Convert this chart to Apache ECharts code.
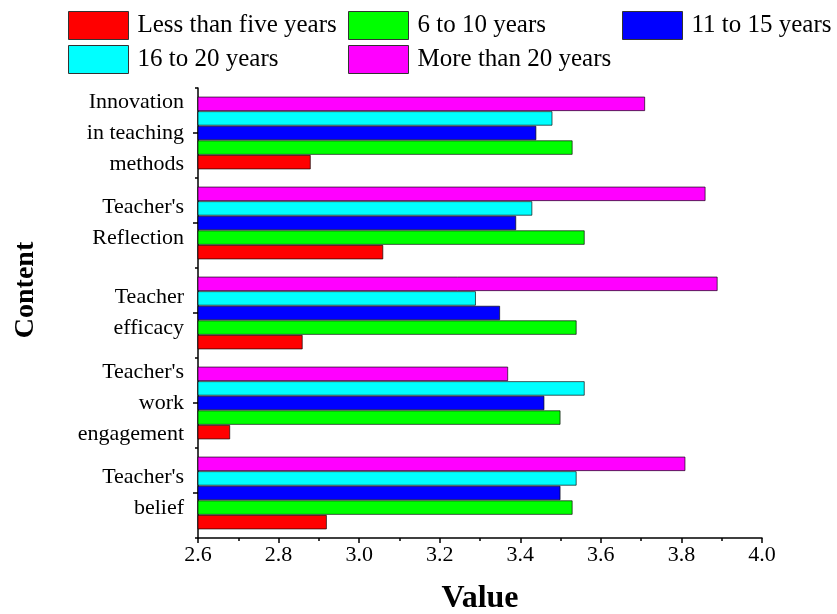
<!DOCTYPE html>
<html>
<head>
<meta charset="utf-8">
<script src="https://cdn.jsdelivr.net/npm/echarts@6/dist/echarts.min.js"></script>
<style>
  html, body { margin: 0; padding: 0; background: #fff; }
  #main { width: 837px; height: 614px; }
</style>
</head>
<body>
<div id="main"></div>
<script>
// categories, bottom to top
var categories = ["Teacher's\nbelief", "Teacher's\nwork\nengagement", "Teacher\nefficacy", "Teacher's\nReflection", "Innovation\nin teaching\nmethods"];
var seriesNames = ['Less than five years', '6 to 10 years', '11 to 15 years', '16 to 20 years', 'More than 20 years'];
var lessThanFive = [2.92, 2.68, 2.86, 3.06, 2.88];
var sixToTen = [3.53, 3.50, 3.54, 3.56, 3.53];
var elevenToFifteen = [3.50, 3.46, 3.35, 3.39, 3.44];
var sixteenToTwenty = [3.54, 3.56, 3.29, 3.43, 3.48];
var moreThanTwenty = [3.81, 3.37, 3.89, 3.86, 3.71];
var xTicks = { min: 2.6, max: 4.0, interval: 0.2 };

var colors = ['#ff0000', '#00ff00', '#0000ff', '#00ffff', '#ff00ff'];
var values = [lessThanFive, sixToTen, elevenToFifteen, sixteenToTwenty, moreThanTwenty];
var font = 'Liberation Serif';

var chart = echarts.init(document.getElementById('main'));

// legend boxes placed like the original (3 + 2 layout)
var legendPos = [[68, 11], [348, 11], [622, 11], [68, 45], [348, 45]];
var legends = seriesNames.map(function (n, i) {
    return {
        data: [n],
        left: legendPos[i][0],
        top: legendPos[i][1],
        padding: 0,
        icon: 'rect',
        itemWidth: 60,
        itemHeight: 28,
        itemGap: 0,
        selectedMode: false,
        itemStyle: { borderColor: '#333', borderWidth: 1 },
        textStyle: { fontFamily: font, fontSize: 25, color: '#000', padding: [0, 0, 0, 4] }
    };
});

// first series is drawn at the top of a band, so add them in reverse
var series = [];
for (var i = seriesNames.length - 1; i >= 0; i--) {
    series.push({
        name: seriesNames[i],
        type: 'bar',
        data: values[i],
        barGap: '0%',
        barCategoryGap: '19%',
        itemStyle: { color: colors[i], borderColor: 'rgba(0,0,0,0.65)', borderWidth: 1 }
    });
}

var option = {
    animation: false,
    backgroundColor: '#fff',
    legend: legends,
    grid: { left: 198, right: 75, top: 88, bottom: 76, outerBoundsMode: 'none' },
    xAxis: {
        type: 'value',
        min: xTicks.min,
        max: xTicks.max,
        interval: xTicks.interval,
        name: 'Value',
        nameLocation: 'middle',
        nameGap: 45,
        nameTextStyle: { fontFamily: font, fontSize: 32, fontWeight: 'bold', color: '#000' },
        axisLine: { show: true, lineStyle: { color: '#000', width: 1.5 } },
        axisTick: { show: true, length: 5, lineStyle: { color: '#000', width: 1.5 } },
        minorTick: { show: true, splitNumber: 2, length: 3, lineStyle: { color: '#000', width: 1.5 } },
        splitLine: { show: false },
        axisLabel: {
            fontFamily: font, fontSize: 22, color: '#000', margin: 6,
            formatter: function (v) { return v.toFixed(1); }
        }
    },
    yAxis: [{
        type: 'category',
        data: categories,
        name: 'Content',
        nameLocation: 'middle',
        nameRotate: 90,
        nameGap: 158,
        nameTextStyle: { fontFamily: font, fontSize: 28, fontWeight: 'bold', color: '#000', padding: [0, 0, 0, 46] },
        axisLine: { show: true, lineStyle: { color: '#000', width: 1.5 } },
        axisTick: { show: true, alignWithLabel: true, length: 5, lineStyle: { color: '#000', width: 1.5 } },
        axisLabel: { fontFamily: font, fontSize: 22, color: '#000', lineHeight: 31, margin: 14 }
    }, {
        type: 'category',
        data: categories,
        position: 'left',
        axisLine: { show: false },
        axisTick: { show: true, length: 3, lineStyle: { color: '#000', width: 1.5 } },
        axisLabel: { show: false }
    }],
    series: series
};
chart.setOption(option);
</script>
</body>
</html>
